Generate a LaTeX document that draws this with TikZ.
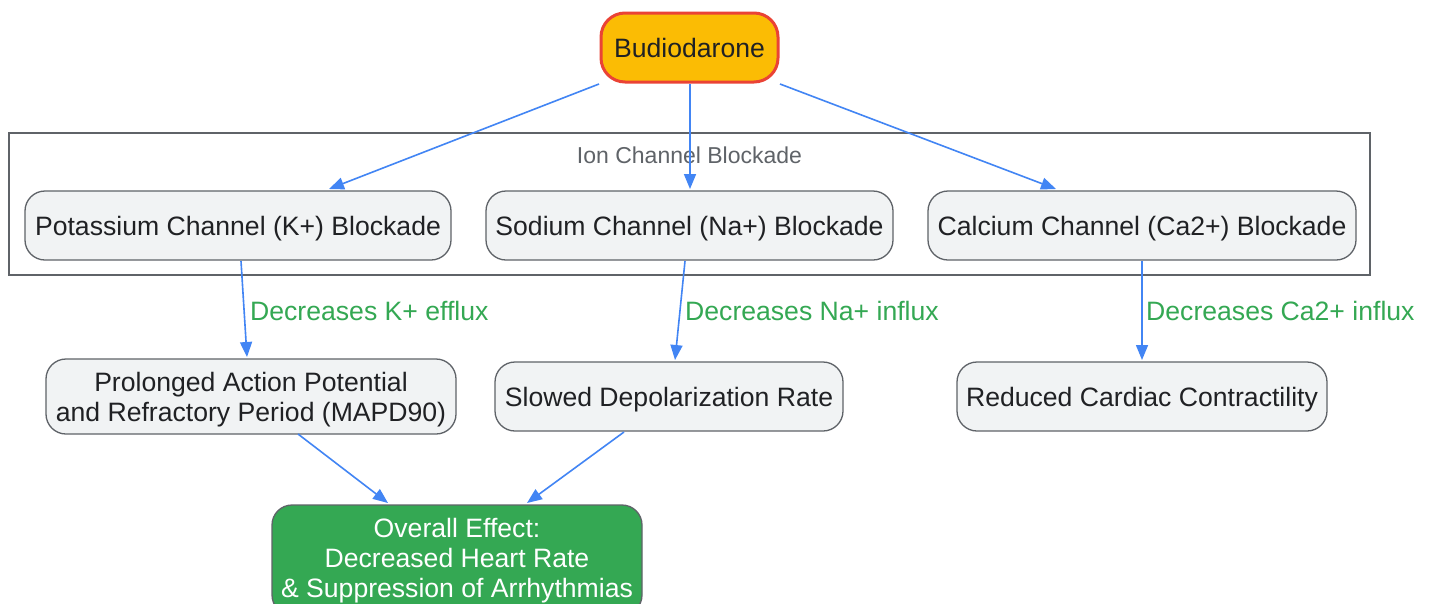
\documentclass[tikz,border=0pt]{standalone}
\usepackage{fontspec}
\setmainfont{Liberation Sans}
\usetikzlibrary{arrows.meta}
\definecolor{boxfill}{HTML}{F1F3F4}
\definecolor{boxline}{HTML}{5F6368}
\definecolor{txt}{HTML}{202124}
\definecolor{gyellow}{HTML}{FBBC04}
\definecolor{gred}{HTML}{EA4335}
\definecolor{gblue}{HTML}{4285F4}
\definecolor{ggreen}{HTML}{34A853}
\definecolor{clline}{HTML}{5F6368}
\definecolor{cltext}{HTML}{5F6368}
\tikzset{
  proc/.style={draw=boxline, line width=1.3pt, fill=boxfill, rounded corners=20pt, text=txt,
    font=\fontsize{26.6pt}{30pt}\selectfont, align=center, inner sep=0pt, text depth=0pt},
  conn/.style={draw=gblue, line width=1.6pt, -{Triangle[length=15pt,width=12pt]}},
  elabel/.style={text=ggreen, font=\fontsize{26.6pt}{30pt}\selectfont, anchor=west, inner sep=0pt},
}
\begin{document}
\begin{tikzpicture}[x=1pt,y=-1pt]
\useasboundingbox (0,0) rectangle (1431,603);
\fill[white] (0,0) rectangle (1431,603);
% cluster
\node[draw=clline, line width=1.3pt, minimum width=1361pt, minimum height=142pt, inner sep=0pt] (cl) at (689.5,204) {};
\node[text=cltext, font=\fontsize{23pt}{27pt}\selectfont, inner sep=0pt] (cllab) at (689.5,155) {Ion Channel Blockade};
% nodes
\node[proc, draw=gred, line width=3pt, fill=gyellow, rounded corners=24pt, minimum width=177pt, minimum height=69pt] (bud) at (689.5,47.5) {Budiodarone};
\node[proc, minimum width=426pt, minimum height=69pt] (k) at (238,225.5) {Potassium Channel (K+) Blockade};
\node[proc, minimum width=407pt, minimum height=69pt] (na) at (689.5,225.5) {Sodium Channel (Na+) Blockade};
\node[proc, minimum width=428pt, minimum height=69pt] (ca) at (1142,225.5) {Calcium Channel (Ca2+) Blockade};
\node[proc, minimum width=410pt, minimum height=75pt] (pro) at (251,396.5) {Prolonged Action Potential\\and Refractory Period (MAPD90)};
\node[proc, minimum width=348pt, minimum height=69pt] (slo) at (669,396.5) {Slowed Depolarization Rate};
\node[proc, minimum width=370pt, minimum height=69pt] (red) at (1142,396.5) {Reduced Cardiac Contractility};
\node[proc, fill=ggreen, minimum width=370pt, minimum height=110pt] (ov) at (457,560) {};
\node[text=white, font=\fontsize{26.6pt}{30pt}\selectfont, align=center, inner sep=0pt] (ovt) at (457,561) {Overall Effect:\\Decreased Heart Rate\\\& Suppression of Arrhythmias};
% connectors
\coordinate (b1) at (599,84);
\coordinate (b2) at (690,84);
\coordinate (b3) at (780,84);
\coordinate (k1) at (329,189);
\coordinate (na1) at (690,189);
\coordinate (ca1) at (1056,189);
\draw[conn] (b1) -- (k1);
\draw[conn] (b2) -- (na1);
\draw[conn] (b3) -- (ca1);
\coordinate (ks) at (241,261);
\coordinate (ke) at (247,357);
\coordinate (ns) at (685,261);
\coordinate (ne) at (675,360);
\coordinate (cs) at (1142,261);
\coordinate (ce) at (1142,360);
\draw[conn] (ks) -- (ke);
\draw[conn] (ns) -- (ne);
\draw[conn] (cs) -- (ce);
\node[elabel] (lk) at (250,311) {Decreases K+ efflux};
\node[elabel] (ln) at (685,311) {Decreases Na+ influx};
\node[elabel] (lc) at (1146,311) {Decreases Ca2+ influx};
\coordinate (ps) at (298,434);
\coordinate (pe) at (388,503);
\coordinate (ss) at (624,432);
\coordinate (se) at (527,503);
\draw[conn] (ps) -- (pe);
\draw[conn] (ss) -- (se);
\end{tikzpicture}
\end{document}
